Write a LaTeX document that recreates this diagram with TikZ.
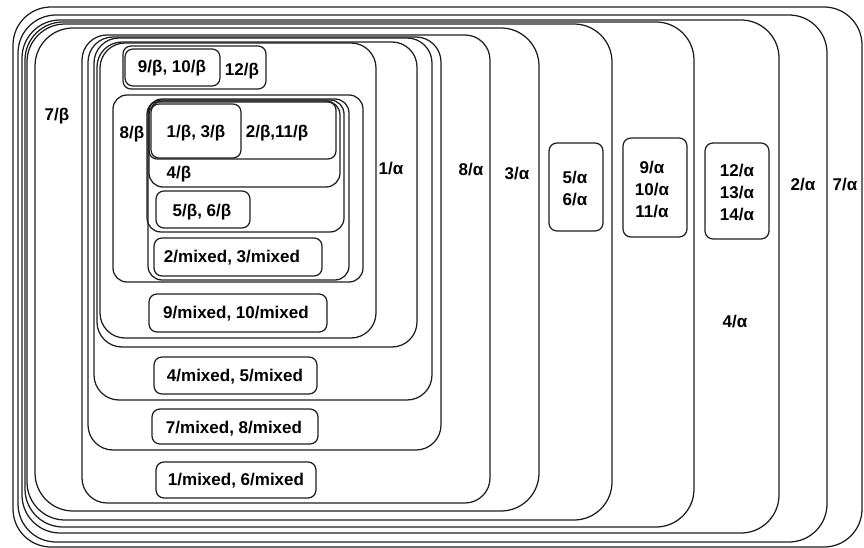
\documentclass[tikz,border=0pt]{standalone}
\usepackage{fontspec}
\setmainfont{Liberation Sans}
\usepackage{tikz}
\definecolor{edgegray}{HTML}{1E1E1E}

\begin{document}
\begin{tikzpicture}[x=1pt,y=-1pt,font=\fontsize{17}{22}\selectfont\bfseries,
  outerbox/.style={draw=edgegray,line width=1.25pt,rounded corners=38pt},
  midbox/.style={draw=edgegray,line width=1.25pt,rounded corners=25pt},
  innerbox/.style={draw=edgegray,line width=1.25pt,rounded corners=14pt},
  tagbox/.style={draw=edgegray,line width=1.25pt,rounded corners=8pt}]
  \useasboundingbox (0,0) rectangle (864,548);

  \draw[outerbox] (13,7) rectangle (862,547);
  \draw[outerbox] (18,15) rectangle (827,542);
  \draw[outerbox] (22,20) rectangle (779,533);
  \draw[outerbox] (25,22) rectangle (694,527);
  \draw[outerbox] (27,24) rectangle (612,520);
  \draw[outerbox] (35,28) rectangle (539,511);
  \node (a7) at (845,185) {7/α};
  \node (a2) at (803,185) {2/α};
  \node (a4) at (735,322) {4/α};
  \node (a3) at (517,174) {3/α};
  \node (b7) at (57,116) {7/β};

  \draw[tagbox] (705,143) rectangle (769,239);
  \node[align=center] (a12) at (737,193) {12/α\\13/α\\14/α};
  \draw[tagbox] (623,138) rectangle (687,237);
  \node[align=center] (a9) at (652,190) {9/α\\10/α\\11/α};
  \draw[tagbox] (549,143) rectangle (603,231);
  \node[align=center] (a5) at (575,189) {5/α\\6/α};

  \draw[midbox] (82,35) rectangle (490,503);
  \node (a8) at (471,170) {8/α};
  \draw[tagbox] (156,462) rectangle (316,498);
  \node (m1) at (236,481) {1/mixed, 6/mixed};

  \draw[midbox] (88,37) rectangle (441,450);
  \node (a1) at (391,169) {1/α};
  \draw[tagbox] (152,409) rectangle (318,444);
  \node (m7) at (234,429) {7/mixed, 8/mixed};

  \draw[midbox] (94,38) rectangle (432,400);
  \draw[tagbox] (154,357) rectangle (317,394);
  \node (m4) at (235,377) {4/mixed, 5/mixed};

  \draw[midbox] (97,42) rectangle (417,347);
  \draw[midbox] (100,43) rectangle (376,338);
  \draw[tagbox] (149,294) rectangle (327,332);
  \node (m9) at (236,314) {9/mixed, 10/mixed};

  \draw[tagbox] (123,46) rectangle (266,89);
  \node (b12) at (242,71) {12/β};
  \draw[tagbox] (125,49) rectangle (220,86);
  \node (b9) at (172,68) {9/β, 10/β};

  \draw[innerbox] (113,95) rectangle (363,282);
  \node (b8) at (132,134) {8/β};
  \draw[innerbox] (148,99) rectangle (349,280);
  \draw[tagbox] (154,238) rectangle (322,276);
  \node (m2) at (232,258) {2/mixed, 3/mixed};
  \draw[innerbox] (147,100) rectangle (344,232);
  \draw[tagbox] (156,191) rectangle (250,228);
  \node (b5) at (202,212) {5/β, 6/β};
  \draw[innerbox] (149,101) rectangle (340,187);
  \node (b4) at (179,174) {4/β};
  \draw[tagbox] (149,102) rectangle (336,159);
  \node (b2) at (277,133) {2/β,11/β};
  \draw[tagbox] (151,104) rectangle (241,158);
  \node (b1) at (196,133) {1/β, 3/β};
\end{tikzpicture}
\end{document}
